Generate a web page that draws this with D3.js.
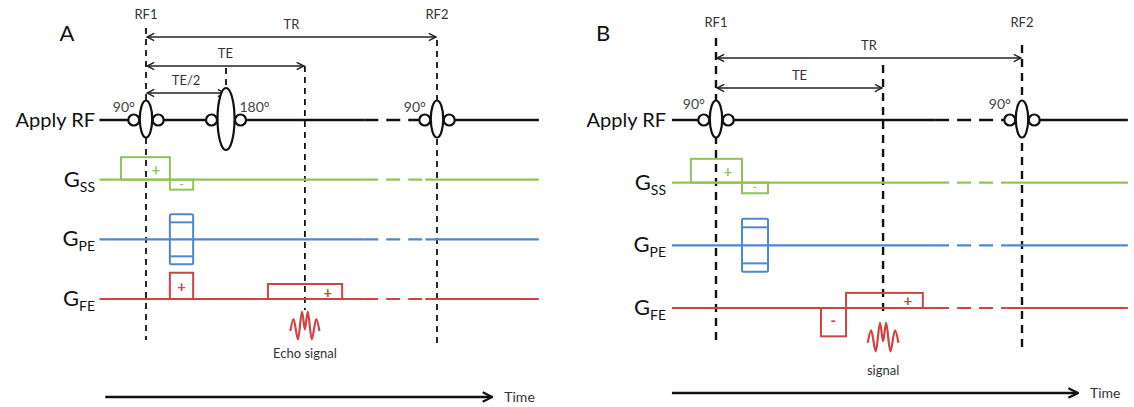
<!DOCTYPE html>
<meta charset="utf-8">
<script src="https://d3js.org/d3.v7.min.js"></script>
<style>body{margin:0;background:#fff}</style>
<div id="vis"></div>
<script>

// rows of the sequence diagram
var rows = ["RF", "SS", "PE", "FE"];
var rowColor = {RF: "#111", SS: "#92c35a", PE: "#4f88cc", FE: "#cb4543"};
var rowSub = {SS: "SS", PE: "PE", FE: "FE"};

// panel A, spin echo (time in % of TR, amplitude relative)
var pulsesA = [{t: 0, deg: "90°", big: false}, {t: 27.5, deg: "180°", big: true}, {t: 100, deg: "90°", big: false}];
var spansA = [{name: "TR", end: 100}, {name: "TE", end: 54.6}, {name: "TE/2", end: 27.5}];
var ssA = [{t0: -8.6, t1: 8.2, a: 0.9, mark: "+", mt: 3.4}, {t0: 8.2, t1: 16.2, a: -0.4, mark: "-", mt: 12.2}];
var peA = [{t0: 8.2, t1: 16.2}];
var feA = [{t0: 8.2, t1: 16.2, a: 1.05, mark: "+", mt: 12.2}, {t0: 41.9, t1: 67.4, a: 0.6, mark: "+", mt: 62.5}];
var echoA = 54.6;

// panel B, gradient echo
var pulsesB = [{t: 0, deg: "90°", big: false}, {t: 100, deg: "90°", big: false}];
var spansB = [{name: "TR", end: 100}, {name: "TE", end: 54.6}];
var ssB = [{t0: -8.2, t1: 8.5, a: 0.9, mark: "+", mt: 3.9}, {t0: 8.5, t1: 17, a: -0.4, mark: "-", mt: 12.7}];
var peB = [{t0: 8.5, t1: 17}];
var feB = [{t0: 34.3, t1: 42.5, a: -1.07, mark: "-", mt: 38.3}, {t0: 42.5, t1: 67.6, a: 0.57, mark: "+", mt: 62.7}];
var echoB = 54.6;

// shape of the echo wiggle (time offset, height 0..1)
var wiggle = [[-5, 0.3], [-3.9, 0.7], [-2.4, 0.02], [-1.0, 0.95], [0, 0.35], [1.0, 0.95], [2.4, 0.02], [3.9, 0.7], [5, 0.3]];

var panels = [
  {letter: "A", letterX: 67, xr: [146, 437], yr: [120, 299], amp: 25,
   line: [-16, 135], brk: [75, 96], time: [-14, 119], timeY: 397,
   pulses: pulsesA, spans: spansA, spanY: [37, 66, 93], ss: ssA, pe: peA, fe: feA,
   echo: echoA, echoY: [340, 310], echoText: "Echo signal", echoTextY: 358,
   vlines: [{t: 0, y0: 28, y1: 340}, {t: 100, y0: 40, y1: 345}, {t: 54.6, y0: 66, y1: 310}, {t: 27.5, y0: 68, y1: 90}],
   labelX: 95, rf1Y: 19, degY: 112},
  {letter: "B", letterX: 603, xr: [716, 1022], yr: [120, 308], amp: 26.5,
   line: [-14.4, 134.6], brk: [71.6, 95], time: [-14.4, 118.3], timeY: 393,
   pulses: pulsesB, spans: spansB, spanY: [58, 88], ss: ssB, pe: peB, fe: feB,
   echo: echoB, echoY: [352, 321], echoText: "signal", echoTextY: 375,
   vlines: [{t: 0, y0: 38, y1: 345}, {t: 100, y0: 45, y1: 350}, {t: 54.6, y0: 65, y1: 312}],
   labelX: 666, rf1Y: 27, degY: 109}
];

var font = "Lato, 'Open Sans', sans-serif";

var svg = d3.select("#vis")
  .append("svg")
    .attr("width", 1134)
    .attr("height", 407)
    .style("font-family", font);

var defs = svg.append("defs");
defs.append("marker")
    .attr("id", "open")
    .attr("viewBox", "0 0 10 10")
    .attr("refX", 9).attr("refY", 5)
    .attr("markerWidth", 9).attr("markerHeight", 9)
    .attr("markerUnits", "userSpaceOnUse")
    .attr("orient", "auto-start-reverse")
  .append("path")
    .attr("d", "M1,1 L9,5 L1,9")
    .attr("fill", "none")
    .attr("stroke", "#222")
    .attr("stroke-width", 1.6);
defs.append("marker")
    .attr("id", "solid")
    .attr("viewBox", "0 0 10 10")
    .attr("refX", 9).attr("refY", 5)
    .attr("markerWidth", 12).attr("markerHeight", 12)
    .attr("markerUnits", "userSpaceOnUse")
    .attr("orient", "auto")
  .append("path")
    .attr("d", "M1,1 L9,5 L1,9")
    .attr("fill", "none")
    .attr("stroke", "#111")
    .attr("stroke-width", 1.8);

panels.forEach(function(p) {
  var x = d3.scaleLinear().domain([0, 100]).range(p.xr);
  var y = d3.scalePoint().domain(rows).range(p.yr);
  var a = d3.scaleLinear().domain([0, 1]).range([0, -p.amp]);
  var g = svg.append("g");

  // panel letter
  g.append("text")
    .attr("x", p.letterX).attr("y", 41)
    .attr("text-anchor", "middle")
    .style("font-size", "22px")
    .attr("fill", "#111")
    .text(p.letter);

  // dashed timing lines
  g.selectAll(".vl")
    .data(p.vlines)
    .enter()
    .append("line")
      .attr("x1", function(d) { return x(d.t); })
      .attr("x2", function(d) { return x(d.t); })
      .attr("y1", function(d) { return d.y0; })
      .attr("y2", function(d) { return d.y1; })
      .attr("stroke", "#111")
      .attr("stroke-width", p.letter == "A" ? 1.8 : 2.4)
      .attr("stroke-dasharray", p.letter == "A" ? "6,5" : "8,6");

  // RF1 / RF2 labels
  g.selectAll(".rfl")
    .data([{t: 0, s: "RF1"}, {t: 100, s: "RF2"}])
    .enter()
    .append("text")
      .attr("x", function(d) { return x(d.t); })
      .attr("y", p.rf1Y)
      .attr("text-anchor", "middle")
      .style("font-size", "13px")
      .attr("fill", "#333")
      .text(function(d) { return d.s; });

  // interval arrows
  p.spans.forEach(function(s, i) {
    var yy = p.spanY[i];
    g.append("line")
      .attr("x1", x(0) + 1).attr("x2", x(s.end) - 1)
      .attr("y1", yy).attr("y2", yy)
      .attr("stroke", "#222")
      .attr("stroke-width", 1.6)
      .attr("marker-start", "url(#open)")
      .attr("marker-end", "url(#open)");
    g.append("text")
      .attr("x", x(s.end / 2)).attr("y", yy - 8)
      .attr("text-anchor", "middle")
      .style("font-size", "13px")
      .attr("fill", "#333")
      .text(s.name);
  });

  // baselines with dashed break
  rows.forEach(function(r) {
    var yy = y(r);
    var col = rowColor[r];
    var sw = r == "RF" ? 2.6 : 2.2;
    [[p.line[0], p.brk[0], null], [p.brk[0], p.brk[1], "14,8"], [p.brk[1], p.line[1], null]].forEach(function(seg) {
      g.append("line")
        .attr("x1", x(seg[0])).attr("x2", x(seg[1]))
        .attr("y1", yy).attr("y2", yy)
        .attr("stroke", col)
        .attr("stroke-width", sw)
        .attr("stroke-dasharray", seg[2]);
    });

    // row labels
    var lab = g.append("text")
      .attr("x", p.labelX)
      .attr("y", yy + 7)
      .attr("text-anchor", "end")
      .attr("fill", "#111");
    if (r == "RF") {
      lab.style("font-size", "20px").text("Apply RF");
    } else {
      lab.append("tspan").style("font-size", "22px").text("G");
      lab.append("tspan").style("font-size", "14px").attr("dy", 5).text(rowSub[r]);
    }
  });

  // gradient lobes
  function lobes(data, row) {
    var yy = y(row);
    data.forEach(function(d) {
      var top = yy + Math.min(a(d.a), 0);
      var h = Math.abs(a(d.a));
      g.append("rect")
        .attr("x", x(d.t0)).attr("y", top)
        .attr("width", x(d.t1) - x(d.t0)).attr("height", h)
        .attr("fill", "none")
        .attr("stroke", rowColor[row])
        .attr("stroke-width", 2);
      g.append("text")
        .attr("x", x(d.mt))
        .attr("y", yy + a(d.a * 0.45))
        .attr("dy", "0.35em")
        .attr("text-anchor", "middle")
        .style("font-size", d.a < 0 && row == "SS" ? "11px" : "15px")
        .style("font-weight", "bold")
        .attr("fill", rowColor[row])
        .text(d.mark);
    });
  }
  lobes(p.ss, "SS");
  lobes(p.fe, "FE");

  // phase encode table
  p.pe.forEach(function(d) {
    var yy = y("PE");
    g.append("rect")
      .attr("x", x(d.t0)).attr("y", yy + a(1))
      .attr("width", x(d.t1) - x(d.t0)).attr("height", 2 * p.amp)
      .attr("rx", 1.5)
      .attr("fill", "none")
      .attr("stroke", rowColor.PE)
      .attr("stroke-width", 2);
    [0.68, -0.68].forEach(function(v) {
      g.append("line")
        .attr("x1", x(d.t0)).attr("x2", x(d.t1))
        .attr("y1", yy + a(v)).attr("y2", yy + a(v))
        .attr("stroke", rowColor.PE)
        .attr("stroke-width", 2);
    });
  });

  // RF pulses
  var ry = y("RF");
  p.pulses.forEach(function(d) {
    var rx = d.big ? 8.5 : 6.2, rh = d.big ? 31 : 18.5;
    var cx = x(d.t);
    [-1, 1].forEach(function(sgn) {
      g.append("circle")
        .attr("cx", cx + sgn * (rx + 6)).attr("cy", ry)
        .attr("r", 5.5)
        .attr("fill", "#fff")
        .attr("stroke", "#111")
        .attr("stroke-width", 2.2);
    });
    g.append("ellipse")
      .attr("cx", cx).attr("cy", ry - 1)
      .attr("rx", rx).attr("ry", rh)
      .attr("fill", "#fff")
      .attr("stroke", "#111")
      .attr("stroke-width", 2.2);
    g.append("text")
      .attr("x", d.big ? cx + rx + 20 : cx - rx - 16)
      .attr("y", p.degY)
      .attr("text-anchor", "middle")
      .style("font-size", "14px")
      .attr("fill", "#444")
      .text(d.deg);
  });

  // echo signal
  var ey = d3.scaleLinear().domain([0, 1]).range(p.echoY);
  g.append("path")
    .datum(wiggle)
    .attr("d", d3.line()
      .x(function(d) { return x(p.echo + d[0]); })
      .y(function(d) { return ey(d[1]); })
      .curve(d3.curveCatmullRom))
    .attr("fill", "none")
    .attr("stroke", rowColor.FE)
    .attr("stroke-width", 2.2);
  g.append("text")
    .attr("x", x(p.echo)).attr("y", p.echoTextY)
    .attr("text-anchor", "middle")
    .style("font-size", "13px")
    .attr("fill", "#333")
    .text(p.echoText);

  // time axis
  g.append("line")
    .attr("x1", x(p.time[0])).attr("x2", x(p.time[1]))
    .attr("y1", p.timeY).attr("y2", p.timeY)
    .attr("stroke", "#111")
    .attr("stroke-width", 2.4)
    .attr("marker-end", "url(#solid)");
  g.append("text")
    .attr("x", x(p.time[1]) + 12).attr("y", p.timeY + 5)
    .style("font-size", "14px")
    .attr("fill", "#333")
    .text("Time");
});

</script>
